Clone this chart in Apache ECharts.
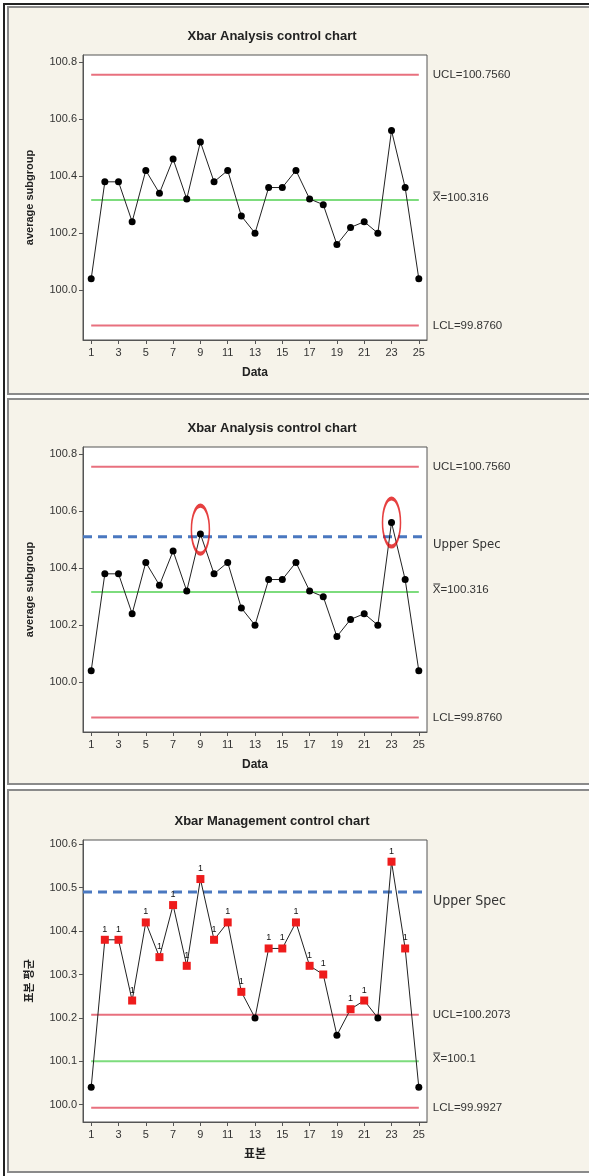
<!DOCTYPE html>
<html><head><meta charset="utf-8">
<script src="https://cdn.jsdelivr.net/npm/echarts@6/dist/echarts.min.js"></script>
<style>html,body{margin:0;padding:0;background:#fff}#c{width:589px;height:1176px}</style>
</head><body><div id="c"></div>
<script>
const samples = [1,2,3,4,5,6,7,8,9,10,11,12,13,14,15,16,17,18,19,20,21,22,23,24,25];
const means = [100.04,100.38,100.38,100.24,100.42,100.34,100.46,100.32,100.52,100.38,100.42,100.26,100.20,100.36,100.36,100.42,100.32,100.30,100.16,100.22,100.24,100.20,100.56,100.36,100.04];
const xTicks = [1,3,5,7,9,11,13,15,17,19,21,23,25];
const yTicksA = [100.0,100.2,100.4,100.6,100.8];
const yTicksB = [100.0,100.1,100.2,100.3,100.4,100.5,100.6];
const limitsA = {ucl:100.756, cl:100.316, lcl:99.876};
const limitsB = {ucl:100.2073, cl:100.1, lcl:99.9927};
const specA = 100.51, specB = 100.49;
const flaggedA = [9, 23];
const titles = ['Xbar Analysis control chart','Xbar Analysis control chart','Xbar Management control chart'];
const uclTexts = ['UCL=100.7560','UCL=100.7560','UCL=100.2073'];
const clTexts = ['X\u033F=100.316','X\u033F=100.316','X\u033F=100.1'];
const lclTexts = ['LCL=99.8760','LCL=99.8760','LCL=99.9927'];
const xNames = ['Data','Data','표본'];
const yNames = ['average subgroup','average subgroup','표본 평균'];

const FONT = '"Liberation Sans", Arial, "Noto Sans CJK KR", sans-serif';
const NARROW = '"Liberation Sans Narrow", "DejaVu Sans Condensed", "Liberation Sans", sans-serif';
const tops = [55, 447, 840];
const heights = [285, 285, 282];
const yRanges = [[99.825,100.825],[99.825,100.825],[99.96,100.61]];
const yTickSets = [yTicksA, yTicksA, yTicksB];
const limitSets = [limitsA, limitsA, limitsB];

const grid = [], xAxis = [], yAxis = [], series = [];
for (let p = 0; p < 3; p++) {
  grid.push({left:83, top:tops[p], width:344, height:heights[p], show:true, backgroundColor:'#fff', borderColor:'#555', borderWidth:1, containLabel:false});
  xAxis.push({type:'value', gridIndex:p, min:0.4, max:25.6,
    name:xNames[p], nameLocation:'middle', nameGap:27,
    nameTextStyle:{fontFamily:FONT, fontWeight:'bold', fontSize:12, color:'#222'},
    axisLine:{show:true, onZero:false, lineStyle:{color:'#555', width:1}},
    axisTick:{show:true, length:4, customValues:xTicks, lineStyle:{color:'#555'}},
    axisLabel:{customValues:xTicks, fontFamily:FONT, fontSize:11, color:'#333', margin:7},
    splitLine:{show:false}});
  yAxis.push({type:'value', gridIndex:p, min:yRanges[p][0], max:yRanges[p][1],
    name:yNames[p], nameLocation:'middle', nameGap:48, nameRotate:90,
    nameTextStyle:{fontFamily:FONT, fontWeight:'bold', fontSize:11, color:'#222'},
    axisLine:{show:true, onZero:false, lineStyle:{color:'#555', width:1}},
    axisTick:{show:true, length:4, customValues:yTickSets[p], lineStyle:{color:'#555'}},
    axisLabel:{customValues:yTickSets[p], formatter:v=>v.toFixed(1), fontFamily:FONT, fontSize:11, color:'#333', margin:6},
    splitLine:{show:false}});
  const L = limitSets[p];
  const lab = (txt, dy) => ({show:true, formatter:txt, distance:14, offset:[0,dy||0], fontFamily:FONT, fontSize:11.5, color:'#333'});
  series.push({type:'line', xAxisIndex:p, yAxisIndex:p, data:[[1,L.ucl],[25,L.ucl]], symbol:'none', silent:true,
    lineStyle:{color:'#e8707e', width:2}, endLabel:lab(uclTexts[p]), z:1});
  series.push({type:'line', xAxisIndex:p, yAxisIndex:p, data:[[1,L.cl],[25,L.cl]], symbol:'none', silent:true,
    lineStyle:{color:'#7ddc7d', width:2}, endLabel:lab(clTexts[p], -2), z:1});
  series.push({type:'line', xAxisIndex:p, yAxisIndex:p, data:[[1,L.lcl],[25,L.lcl]], symbol:'none', silent:true,
    lineStyle:{color:'#e8707e', width:2}, endLabel:lab(lclTexts[p]), z:1});
  if (p > 0) {
    const spec = p === 1 ? specA : specB;
    series.push({type:'line', xAxisIndex:p, yAxisIndex:p, data:[[0.4,spec],[25.6,spec]], symbol:'none', silent:true,
      lineStyle:{color:'#4a78c0', width:3, type:[9,6]},
      endLabel:{show:true, formatter:'Upper Spec', distance:6, offset:[0, p===1?8:9],
        fontFamily:NARROW, fontSize:p===1?13:14, color:'#333'}, z:2});
  }
  let data;
  if (p < 2) {
    data = samples.map((s,i)=>[s, means[i]]);
  } else {
    data = samples.map((s,i)=>{
      const out = means[i] > L.ucl;
      return out ? {value:[s,means[i]], symbol:'rect', symbolSize:8, itemStyle:{color:'#ee1c1c'},
        label:{show:true, formatter:'1', position:'top', distance:2, fontFamily:FONT, fontSize:9, color:'#111'}}
        : {value:[s,means[i]], symbol:'circle', symbolSize:7, itemStyle:{color:'#000'}};
    });
  }
  series.push({type:'line', xAxisIndex:p, yAxisIndex:p, data:data, symbol:'circle', symbolSize:7,
    itemStyle:{color:'#000'}, lineStyle:{color:'#222', width:1}, z:5, silent:true});
  if (p === 1) {
    series.push({type:'scatter', xAxisIndex:p, yAxisIndex:p,
      data:flaggedA.map(s=>[s, means[s-1] + (s===9?0.015:0)]),
      symbol:'circle', symbolSize:[18,48], silent:true,
      itemStyle:{color:'rgba(0,0,0,0)', borderColor:'#e01010', borderWidth:2.5}, z:6});
  }
}

const panelBoxes = [[5,394],[397,784],[788,1172]];
const graphic = [];
graphic.push({type:'line', shape:{x1:4, y1:3, x2:4, y2:1176}, style:{stroke:'#222', lineWidth:2}, z:-10});
panelBoxes.forEach((b,p)=>{
  graphic.push({type:'rect', shape:{x:8, y:b[0]+2, width:585, height:b[1]-b[0]-2},
    style:{fill:'#f6f3ea', stroke:'#8a8a8a', lineWidth:2}, z:-9});
  graphic.push({type:'text', style:{text:titles[p], x:272, y:tops[p]-19, align:'center', verticalAlign:'middle',
    fontFamily:FONT, fontWeight:'bold', fontSize:13, fill:'#222'}});
});
graphic.push({type:'line', shape:{x1:3, y1:4, x2:589, y2:4}, style:{stroke:'#222', lineWidth:2}, z:-10});

const chart = echarts.init(document.getElementById('c'), null, {renderer:'canvas'});
chart.setOption({animation:false, backgroundColor:'#fff', grid, xAxis, yAxis, series, graphic});
</script></body></html>
